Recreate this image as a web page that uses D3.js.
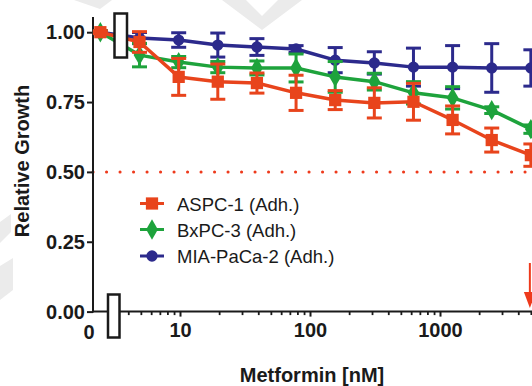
<!DOCTYPE html>
<html>
<head>
<meta charset="utf-8">
<script src="https://cdn.jsdelivr.net/npm/d3@7/dist/d3.min.js"></script>
<style>
  html, body { margin: 0; padding: 0; background: #fff; }
  svg { display: block; }
  text { font-family: "Liberation Sans", Arial, sans-serif; fill: #1a1a1a; }
</style>
</head>
<body>
<svg id="chart" width="532" height="386"></svg>
<script>
// ---- data ----
const concentrations = [0, 4.88, 9.77, 19.53, 39.06, 78.13, 156.25, 312.5, 625, 1250, 2500, 5000];
const seriesNames = ["ASPC-1 (Adh.)", "BxPC-3 (Adh.)", "MIA-PaCa-2 (Adh.)"];
const aspcValues = [1.00, 0.965, 0.840, 0.823, 0.818, 0.783, 0.757, 0.747, 0.751, 0.686, 0.614, 0.560];
const aspcErrors = [0.005, 0.037, 0.066, 0.063, 0.036, 0.063, 0.034, 0.054, 0.066, 0.050, 0.043, 0.040];
const bxpcValues = [1.00, 0.918, 0.893, 0.875, 0.872, 0.872, 0.840, 0.823, 0.783, 0.765, 0.721, 0.653];
const bxpcErrors = [0.005, 0.042, 0.020, 0.020, 0.025, 0.050, 0.055, 0.030, 0.040, 0.040, 0.012, 0.015];
const miaValues  = [1.00, 0.979, 0.972, 0.954, 0.947, 0.940, 0.900, 0.890, 0.875, 0.875, 0.872, 0.872];
const miaErrors  = [0.005, 0.020, 0.026, 0.043, 0.030, 0.012, 0.045, 0.040, 0.068, 0.077, 0.087, 0.065];
const yTicks = [0, 0.25, 0.5, 0.75, 1.0];
const xTicks = [10, 100, 1000];
const xMinorTicks = [4,5,6,7,8,9,20,30,40,50,60,70,80,90,200,300,400,500,600,700,800,900,2000,3000,4000,5000,6000];
const zeroLabel = "0";
const thresholdValue = 0.5;
const arrowAt = 5000;

// ---- setup ----
const svg = d3.select("#chart");
const W = 532, H = 386;
const x = d3.scaleLog().domain([10, 1000]).range([180, 440]);
const y = d3.scaleLinear().domain([0, 1]).range([311.6, 32.2]);
const zeroStandIn = 2.44;   // plotting position used for the 0 (control) concentration
const zeroLabelAt = 2.0;
const xPos = c => c === 0 ? x(zeroStandIn) : x(c);
const axisX0 = 93;

// faint watermark shapes
const wm = svg.append("g").attr("fill", "#ebebeb");
wm.append("polygon").attr("points", "0,222 11,214 11,232 0,243");
wm.append("polygon").attr("points", "0,266 13,258 13,290 0,300");
wm.append("polygon").attr("points", "74,0 112,0 100,9");
wm.append("polygon").attr("points", "222,0 246,0 262,16 278,0 302,0 262,30");

// threshold dotted line
svg.append("line")
  .attr("x1", axisX0).attr("x2", W + 10)
  .attr("y1", y(thresholdValue)).attr("y2", y(thresholdValue))
  .attr("stroke", "#ee3a1c").attr("stroke-width", 3)
  .attr("stroke-linecap", "round")
  .attr("stroke-dasharray", "0.1 13.4");

// axes
const axisColor = "#1a1a1a";
const yAxis = svg.append("g").attr("transform", `translate(${axisX0},0)`)
  .call(d3.axisLeft(y).tickValues(yTicks).tickFormat(d3.format(".2f")).tickSize(6).tickPadding(2));
yAxis.select(".domain").remove();
yAxis.selectAll(".tick line").attr("stroke", axisColor).attr("stroke-width", 2);
yAxis.selectAll(".tick text").attr("font-size", 20).attr("font-weight", "bold")
  .attr("font-family", "'Liberation Sans', Arial, sans-serif").attr("fill", axisColor);

svg.append("line").attr("x1", axisX0).attr("x2", axisX0)
  .attr("y1", 17).attr("y2", y(0) + 1)
  .attr("stroke", axisColor).attr("stroke-width", 2);

const xAxisY = y(0);
svg.append("line").attr("x1", axisX0 - 1).attr("x2", W + 10)
  .attr("y1", xAxisY).attr("y2", xAxisY)
  .attr("stroke", axisColor).attr("stroke-width", 2);

const xAxis = svg.append("g").attr("transform", `translate(0,${xAxisY})`)
  .call(d3.axisBottom(x).tickValues(xTicks).tickFormat(d3.format("d")).tickSize(5).tickPadding(6));
xAxis.select(".domain").remove();
xAxis.selectAll(".tick line").attr("stroke", axisColor).attr("stroke-width", 2);
xAxis.selectAll(".tick text").attr("font-size", 20).attr("font-weight", "bold")
  .attr("font-family", "'Liberation Sans', Arial, sans-serif").attr("fill", axisColor);

const xMinor = svg.append("g").attr("transform", `translate(0,${xAxisY})`)
  .call(d3.axisBottom(x).tickValues(xMinorTicks).tickFormat("").tickSize(3.5));
xMinor.select(".domain").remove();
xMinor.selectAll(".tick line").attr("stroke", axisColor).attr("stroke-width", 1.8);

svg.append("text").attr("x", x(zeroLabelAt)).attr("y", 338.5)
  .attr("text-anchor", "middle").attr("font-size", 20).attr("font-weight", "bold")
  .text(zeroLabel);

// axis titles
svg.append("text")
  .attr("transform", `translate(29,161) rotate(-90)`)
  .attr("text-anchor", "middle").attr("font-size", 20).attr("font-weight", "bold")
  .text("Relative Growth");
svg.append("text").attr("x", 312).attr("y", 382)
  .attr("text-anchor", "middle").attr("font-size", 20).attr("font-weight", "bold")
  .text("Metformin [nM]");

// series
const series = [
  { name: seriesNames[2], values: miaValues,  errors: miaErrors,  color: "#2c2a8c", symbol: d3.symbolCircle,  size: 100 },
  { name: seriesNames[1], values: bxpcValues, errors: bxpcErrors, color: "#1ea33c", symbol: d3.symbolDiamond, size: 120 },
  { name: seriesNames[0], values: aspcValues, errors: aspcErrors, color: "#e8441c", symbol: d3.symbolSquare,  size: 150 }
];

const line = d3.line().x((d, i) => xPos(concentrations[i])).y(d => y(d));
const capHalf = 7.5;

series.forEach(s => {
  const g = svg.append("g");
  // error bars
  s.values.forEach((v, i) => {
    const cx = xPos(concentrations[i]);
    const e = s.errors[i];
    const eg = g.append("g").attr("stroke", s.color).attr("stroke-width", 3);
    eg.append("line").attr("x1", cx).attr("x2", cx).attr("y1", y(v + e)).attr("y2", y(v - e));
    eg.append("line").attr("x1", cx - capHalf).attr("x2", cx + capHalf).attr("y1", y(v + e)).attr("y2", y(v + e));
    eg.append("line").attr("x1", cx - capHalf).attr("x2", cx + capHalf).attr("y1", y(v - e)).attr("y2", y(v - e));
  });
  g.append("path").datum(s.values)
    .attr("d", line).attr("fill", "none")
    .attr("stroke", s.color).attr("stroke-width", 3.5).attr("stroke-linejoin", "round");
  g.selectAll(".m").data(s.values).join("path")
    .attr("transform", (d, i) => `translate(${xPos(concentrations[i])},${y(d)})`)
    .attr("d", d3.symbol().type(s.symbol).size(s.size))
    .attr("fill", s.color);
});

// axis break markers
svg.append("rect").attr("x", 114.5).attr("y", 13.5).attr("width", 12.5).attr("height", 44)
  .attr("fill", "#fff").attr("stroke", axisColor).attr("stroke-width", 2.5);
svg.append("rect").attr("x", 108).attr("y", 294.5).attr("width", 11.5).attr("height", 43)
  .attr("fill", "#fff").attr("stroke", axisColor).attr("stroke-width", 2.5);

// arrow at the highest concentration
const ax = x(arrowAt);
svg.append("line").attr("x1", ax - 1).attr("x2", ax - 1).attr("y1", 263).attr("y2", 295)
  .attr("stroke", "#ee3a1c").attr("stroke-width", 2);
svg.append("path")
  .attr("d", `M${ax - 7},${292} L${ax + 5},${292} L${ax - 1},${308} Z`)
  .attr("fill", "#ee3a1c");

// legend
const legendOrder = [series[2], series[1], series[0]];
const legendY = [203.5, 229.5, 256];
legendOrder.forEach((s, i) => {
  const lg = svg.append("g").attr("transform", `translate(152,${legendY[i]})`);
  lg.append("line").attr("x1", -12).attr("x2", 12).attr("stroke", s.color).attr("stroke-width", 3);
  lg.append("path").attr("d", d3.symbol().type(s.symbol).size(s.size)).attr("fill", s.color);
  lg.append("text").attr("x", 25).attr("y", 7).attr("font-size", 18.5).text(s.name);
});
</script>
</body>
</html>
